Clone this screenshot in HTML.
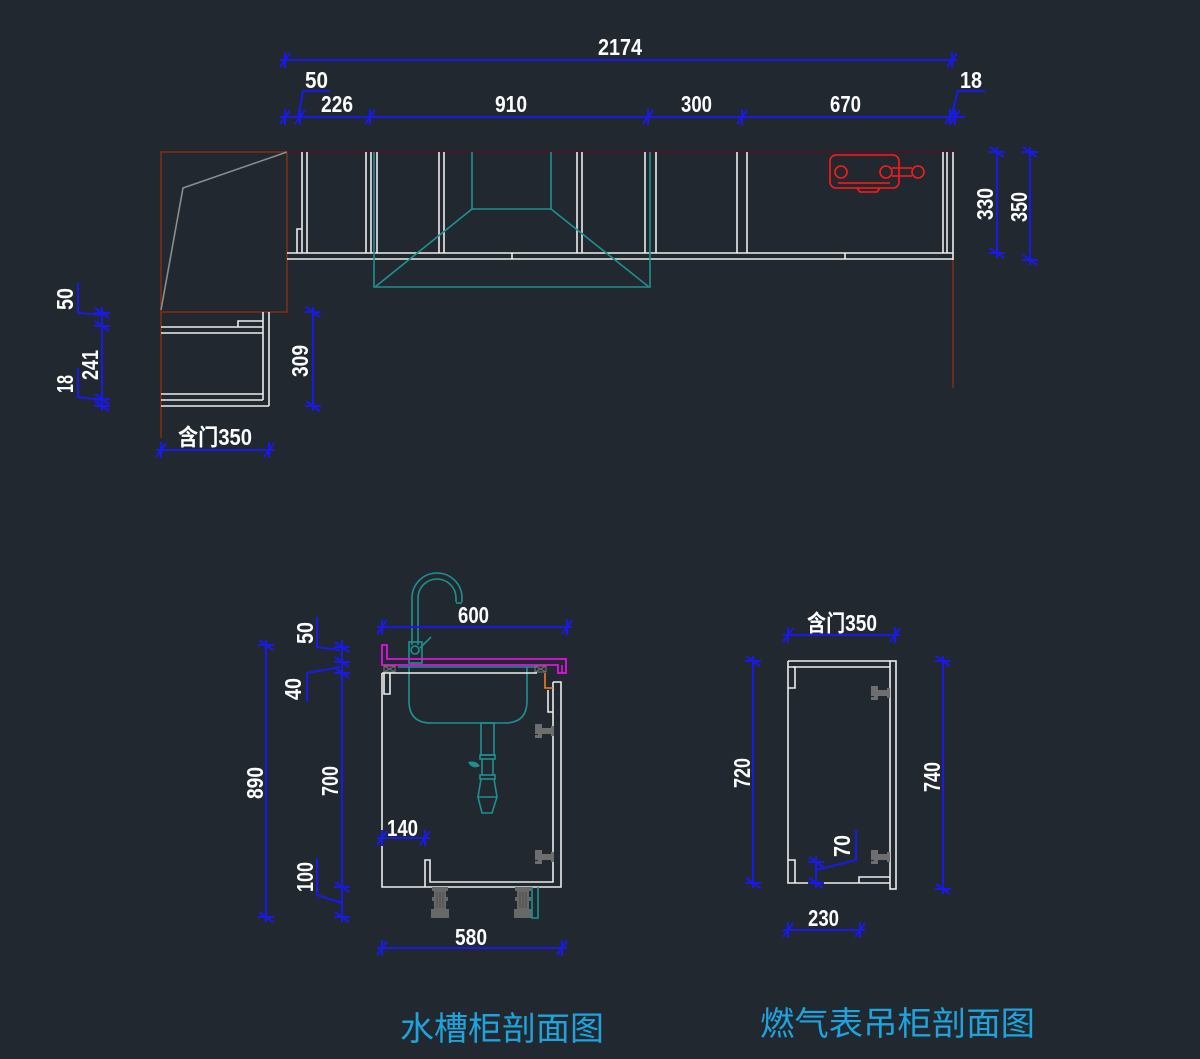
<!DOCTYPE html>
<html><head><meta charset="utf-8"><style>
html,body{margin:0;padding:0;background:#212830;}
svg{display:block;}
.w{stroke:#ececec;stroke-width:1.6;fill:none;}
.b{stroke:#1a1ae8;stroke-width:2;fill:none;}
.t{stroke:#1f9090;stroke-width:1.6;fill:none;}
.n{fill:#ffffff;font-family:"Liberation Sans","Noto Sans CJK SC",sans-serif;font-weight:bold;font-size:23px;}
.ttl{fill:#1fa3dc;font-family:"Liberation Sans","Noto Sans CJK SC",sans-serif;font-size:33px;}
</style></head><body>
<svg width="1200" height="1059" viewBox="0 0 1200 1059" xmlns="http://www.w3.org/2000/svg">
<defs>
<path id="th" d="M-5,7 L5,-7 M0,-8 L0,8" stroke="#1a1ae8" stroke-width="2" fill="none"/>
<path id="tv" d="M-7,-5 L7,5 M-8,0 L8,0" stroke="#1a1ae8" stroke-width="2" fill="none"/>
<g id="hinge"><path d="M0,-7 h7 v4 h9 v-2 h3 v10 h-3 v-2 h-9 v4 h-7 v-3 h3 v-1 h-3 z" fill="#6e6e6e"/></g>
<g id="foot"><path d="M0,0 h16 v4 h-2 v6 h2 v4 h-2 v8 h3 v9 h-18 v-9 h3 v-8 h-2 v-4 h2 v-6 h-2 z" fill="#686868"/><path d="M5,5 v16 M8,5 v16 M11,5 v16" stroke="#4a4a4a" stroke-width="1"/></g>
</defs>
<rect width="1200" height="1059" fill="#212830"/>

<!-- ===== TOP PLAN ===== -->
<rect x="161" y="152" width="126" height="160" fill="none" stroke="#7d2e17" stroke-width="1.6"/>
<line x1="161" y1="312" x2="161" y2="438" stroke="#7d2e17" stroke-width="1.6"/>
<polyline points="287,152 183,188 161,310" fill="none" stroke="#8c8c8c" stroke-width="1.6"/>
<line x1="287" y1="152" x2="955" y2="152" stroke="#4a1428" stroke-width="2"/>
<line x1="953" y1="260" x2="953" y2="388" stroke="#7d2e17" stroke-width="1.6"/>
<g class="w">
<path d="M302,152V253 M307,152V253 M366,152V253 M371,152V253 M377,152V253 M439,152V253 M444,152V253 M577,152V253 M582,152V253 M645,152V253 M656,152V253 M737,152V253 M747,152V253 M943,152V253 M947,152V253 M953,152V260"/>
<path d="M287,253H953 M287,259H953"/>
<path d="M297,253V229H302"/>
<path d="M512,253V259 M845,253V259"/>
</g>
<g class="t">
<polyline points="472,152 472,209 551,209 551,152"/>
<line x1="472" y1="209" x2="375" y2="287"/>
<line x1="551" y1="209" x2="649" y2="287"/>
<polyline points="374,152 374,287 650,287 650,152"/>
</g>
<!-- gas meter -->
<g stroke="#ff1a1a" stroke-width="1.6" fill="none">
<rect x="830" y="155" width="69" height="33" rx="6"/>
<circle cx="841" cy="172" r="6"/>
<circle cx="886" cy="172" r="6"/>
<circle cx="918" cy="172" r="6"/>
<path d="M892,168H912 M892,176H912 M838,183H890 M857,188L860,192H877L880,188"/>
</g>
<!-- lower-left cabinet -->
<g class="w">
<path d="M263,312V400 M269,312V406 M161,327H263 M161,333H263 M161,394H263 M161,400H263 M161,406H269 M238,327V321H263"/>
</g>

<!-- top dims -->
<g class="b">
<line x1="280" y1="60" x2="957" y2="60"/>
<line x1="280" y1="117" x2="965" y2="117"/>
<polyline points="298,117 303,91 330,91"/>
<polyline points="951,117 958,91 985,91"/>
<line x1="997" y1="147" x2="997" y2="258"/>
<line x1="1030" y1="147" x2="1030" y2="265"/>
<polyline points="78,283 78,313 103,315"/>
<line x1="102" y1="307" x2="102" y2="411"/>
<polyline points="78,368 78,397 102,400"/>
<line x1="313" y1="307" x2="313" y2="411"/>
<line x1="156" y1="450" x2="274" y2="450"/>
</g>
<use href="#th" x="285" y="60"/><use href="#th" x="952" y="60"/>
<use href="#th" x="285" y="117"/><use href="#th" x="300" y="117"/><use href="#th" x="370" y="117"/>
<use href="#th" x="648" y="117"/><use href="#th" x="742" y="117"/><use href="#th" x="950" y="117"/><use href="#th" x="955" y="117"/>
<use href="#tv" x="997" y="152"/><use href="#tv" x="997" y="253"/>
<use href="#tv" x="1030" y="152"/><use href="#tv" x="1030" y="260"/>
<use href="#tv" x="102" y="313"/><use href="#tv" x="102" y="326"/><use href="#tv" x="102" y="399"/><use href="#tv" x="102" y="406"/>
<use href="#tv" x="313" y="312"/><use href="#tv" x="313" y="406"/>
<use href="#th" x="161" y="450"/><use href="#th" x="269" y="450"/>

<g class="n">
<text x="598" y="55" textLength="44" lengthAdjust="spacingAndGlyphs">2174</text>
<text x="305" y="88" textLength="23" lengthAdjust="spacingAndGlyphs">50</text>
<text x="321" y="112" textLength="32" lengthAdjust="spacingAndGlyphs">226</text>
<text x="495" y="112" textLength="32" lengthAdjust="spacingAndGlyphs">910</text>
<text x="681" y="112" textLength="31" lengthAdjust="spacingAndGlyphs">300</text>
<text x="830" y="112" textLength="31" lengthAdjust="spacingAndGlyphs">670</text>
<text x="960" y="88" textLength="22" lengthAdjust="spacingAndGlyphs">18</text>
<text transform="translate(993,204) rotate(-90)" x="-16" y="0" textLength="32" lengthAdjust="spacingAndGlyphs">330</text>
<text transform="translate(1027,207) rotate(-90)" x="-15" y="0" textLength="30" lengthAdjust="spacingAndGlyphs">350</text>
<text transform="translate(73,299) rotate(-90)" x="-11" y="0" textLength="22" lengthAdjust="spacingAndGlyphs">50</text>
<text transform="translate(98,365) rotate(-90)" x="-15" y="0" textLength="30" lengthAdjust="spacingAndGlyphs">241</text>
<text transform="translate(73,384) rotate(-90)" x="-9" y="0" textLength="18" lengthAdjust="spacingAndGlyphs">18</text>
<text transform="translate(308,361) rotate(-90)" x="-16" y="0" textLength="32" lengthAdjust="spacingAndGlyphs">309</text>
<text x="178" y="445" textLength="74" lengthAdjust="spacingAndGlyphs">含门350</text>
</g>

<!-- ===== SINK SECTION ===== -->
<!-- faucet -->
<g class="t">
<path d="M412,645V598A25,25 0 0 1 462,598V602"/>
<path d="M418,645V598A19,19 0 0 1 456,598V602"/>
<path d="M456,603H462"/>
<rect x="409" y="642" width="13" height="21"/>
<circle cx="415" cy="650" r="4"/>
<line x1="420" y1="648" x2="431" y2="637"/>
</g>
<!-- countertop -->
<path d="M382,645H387V659H566V673H558V665H382Z" fill="none" stroke="#e012e0" stroke-width="1.8"/>
<line x1="562" y1="665" x2="562" y2="673" stroke="#e012e0" stroke-width="1.6"/>
<!-- bowl -->
<g class="t">
<line x1="398" y1="667" x2="537" y2="667"/>
<path d="M409,667V701Q409,723 431,723H505Q527,723 527,701V667"/>
<rect x="481" y="723" width="13" height="32"/>
<rect x="480" y="755" width="15" height="4"/>
<rect x="480" y="775" width="15" height="4"/>
<path d="M482,759V775 M493,759V775"/>
<path d="M481,779L478,797L482,813H492L497,797L494,779"/>
<path d="M478,797H497"/>
</g>
<path d="M468,762 Q476,760 480,766 Q472,770 468,762Z" fill="#1f9090"/>
<g stroke="#6e6e6e" stroke-width="1.2" fill="none">
<rect x="384" y="666" width="11" height="6"/><path d="M384,666L395,672M395,666L384,672"/>
<rect x="535" y="666" width="11" height="6"/><path d="M535,666L546,672M546,666L535,672"/>
</g>
<!-- cabinet -->
<g class="w">
<path d="M382,673H537 M382,673V887H561V682H553 M384,673V694H390V673"/>
<path d="M553,682V690 M548,690V712H553 M553,690V882H430V860H425V887"/>
</g>
<path d="M545,673V688H553" stroke="#f08020" stroke-width="1.6" fill="none"/>
<use href="#hinge" x="535" y="731"/>
<use href="#hinge" x="535" y="857"/>
<use href="#foot" x="432" y="887"/>
<use href="#foot" x="515" y="887"/>
<path d="M532,887V918H538V887" class="t"/>
<!-- sink dims -->
<g class="b">
<line x1="377" y1="627" x2="572" y2="627"/>
<line x1="266" y1="640" x2="266" y2="922"/>
<line x1="342" y1="640" x2="342" y2="922"/>
<polyline points="317,617 317,647 340,650"/>
<polyline points="307,702 307,673 340,667"/>
<polyline points="317,858 317,895 342,903"/>
<line x1="377" y1="838" x2="430" y2="838"/>
<line x1="377" y1="948" x2="567" y2="948"/>
</g>
<use href="#th" x="382" y="627"/><use href="#th" x="567" y="627"/>
<use href="#tv" x="266" y="645"/><use href="#tv" x="266" y="917"/>
<use href="#tv" x="342" y="647"/><use href="#tv" x="342" y="662"/><use href="#tv" x="342" y="673"/>
<use href="#tv" x="342" y="887"/><use href="#tv" x="342" y="917"/>
<use href="#th" x="382" y="838"/><use href="#th" x="425" y="838"/>
<use href="#th" x="382" y="948"/><use href="#th" x="562" y="948"/>
<g class="n">
<text x="458" y="623" textLength="31" lengthAdjust="spacingAndGlyphs">600</text>
<text transform="translate(313,633) rotate(-90)" x="-11" y="0" textLength="22" lengthAdjust="spacingAndGlyphs">50</text>
<text transform="translate(301,689) rotate(-90)" x="-11" y="0" textLength="22" lengthAdjust="spacingAndGlyphs">40</text>
<text transform="translate(263,783) rotate(-90)" x="-16" y="0" textLength="32" lengthAdjust="spacingAndGlyphs">890</text>
<text transform="translate(338,781) rotate(-90)" x="-15" y="0" textLength="30" lengthAdjust="spacingAndGlyphs">700</text>
<text transform="translate(313,877) rotate(-90)" x="-15" y="0" textLength="30" lengthAdjust="spacingAndGlyphs">100</text>
<text x="387" y="836" textLength="31" lengthAdjust="spacingAndGlyphs">140</text>
<text x="455" y="945" textLength="32" lengthAdjust="spacingAndGlyphs">580</text>
</g>

<!-- ===== GAS CABINET ===== -->
<g class="w">
<path d="M788,661H890 M788,661V883H890 M793,667H890"/>
<rect x="890" y="661" width="6" height="228"/>
<path d="M788,667H795V688H788 M795,883V860H788 M859,883V877H890"/>
</g>
<use href="#hinge" x="871" y="693"/>
<use href="#hinge" x="871" y="857"/>
<g class="b">
<line x1="783" y1="635" x2="900" y2="635"/>
<line x1="753" y1="656" x2="753" y2="888"/>
<line x1="943" y1="656" x2="943" y2="894"/>
<polyline points="856,830 856,860 816,870"/>
<line x1="816" y1="856" x2="816" y2="888"/>
<line x1="783" y1="930" x2="865" y2="930"/>
</g>
<use href="#th" x="788" y="635"/><use href="#th" x="895" y="635"/>
<use href="#tv" x="753" y="661"/><use href="#tv" x="753" y="883"/>
<use href="#tv" x="943" y="661"/><use href="#tv" x="943" y="889"/>
<use href="#tv" x="816" y="862"/><use href="#tv" x="816" y="883"/>
<use href="#th" x="788" y="930"/><use href="#th" x="860" y="930"/>
<g class="n">
<text x="807" y="631" textLength="70" lengthAdjust="spacingAndGlyphs">含门350</text>
<text transform="translate(750,773) rotate(-90)" x="-15" y="0" textLength="30" lengthAdjust="spacingAndGlyphs">720</text>
<text transform="translate(940,777) rotate(-90)" x="-15" y="0" textLength="30" lengthAdjust="spacingAndGlyphs">740</text>
<text transform="translate(850,846) rotate(-90)" x="-11" y="0" textLength="22" lengthAdjust="spacingAndGlyphs">70</text>
<text x="808" y="926" textLength="31" lengthAdjust="spacingAndGlyphs">230</text>
</g>

<!-- titles -->
<text class="ttl" x="400" y="1040" textLength="204" lengthAdjust="spacingAndGlyphs">水槽柜剖面图</text>
<text class="ttl" x="760" y="1035" textLength="275" lengthAdjust="spacingAndGlyphs">燃气表吊柜剖面图</text>
</svg>
</body></html>
